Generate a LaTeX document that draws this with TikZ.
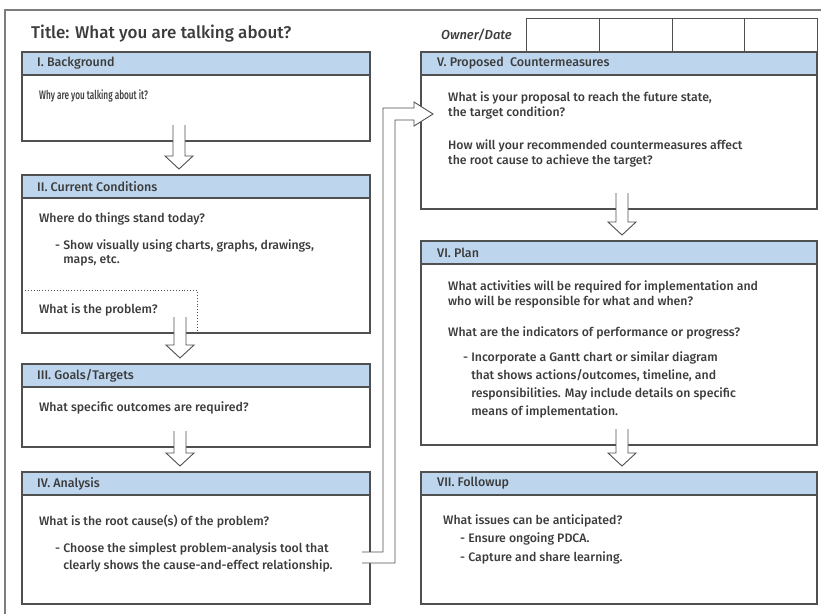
\documentclass[tikz,border=0pt]{standalone}
\usepackage{fontspec}
\setmainfont{Fira Sans}[UprightFont={* Medium}]
\usetikzlibrary{positioning,calc}
\definecolor{HeadBlue}{RGB}{189,214,238}
\definecolor{LineGray}{RGB}{80,80,80}
\definecolor{FrameGray}{RGB}{125,125,125}
\definecolor{InkGray}{RGB}{60,60,60}

% hollow arrow from one panel down to the next
\newcommand{\flowdown}[3]{%
  \path[flowarrow] let \p1=(#1.south), \p2=(#2.north) in
    ({\x1+#3pt-6pt},{\y1+16pt}) -- ({\x1+#3pt-6pt},{\y2+19pt})
    -- ({\x1+#3pt-14pt},{\y2+19pt}) -- ({\x1+#3pt},{\y2+6pt})
    -- ({\x1+#3pt+14pt},{\y2+19pt}) -- ({\x1+#3pt+6pt},{\y2+19pt})
    -- ({\x1+#3pt+6pt},{\y1+16pt});}

\begin{document}
\begin{tikzpicture}[x=1pt, y=-1pt, font=\fontsize{12.3}{15}\selectfont,
  panel/.style={draw=LineGray, line width=1.1pt, fill=white, anchor=north west,
                inner sep=0pt, outer sep=0pt},
  head/.style={draw=LineGray, line width=1.1pt, fill=HeadBlue, anchor=north west,
               minimum height=23pt, inner sep=0pt, outer sep=0pt},
  headtxt/.style={inner sep=0pt, text=InkGray, font=\fontsize{12.5}{13}\selectfont},
  cell/.style={draw=LineGray, line width=0.8pt, anchor=north west, inner sep=0pt,
               minimum width=72.75pt, minimum height=34pt},
  txt/.style={anchor=base west, inner sep=0pt, align=left, text=InkGray},
  flowarrow/.style={draw=LineGray, line width=0.9pt, fill=white}]
  \useasboundingbox (0,0) rectangle (821,613);
  \clip (0,0) rectangle (821,613);
  \draw[FrameGray, line width=1.6pt] (5,10) rectangle (840,630);

  \node[anchor=base west, inner sep=0pt, text=InkGray,
        font=\fontsize{17}{19}\selectfont] (title) at (31,38)
        {Title: What you are talking about?};

  % owner / date boxes
  \foreach \i in {0,...,3}
    \node[cell] (od\i) at ({526+72.75*\i},18) {};
  \node[inner sep=0pt, text=InkGray, font=\fontsize{13}{14}\selectfont\itshape,
        left=14pt of od0] (owner) {Owner/Date};

  % left column
  \node[panel, minimum width=348pt, minimum height=89pt] (bg) at (22,52) {};
  \node[head, minimum width=348pt] (bgh) at (bg.north west) {};
  \node[headtxt, right=15pt of bgh.west] (bgt) {I. Background};
  \node[panel, minimum width=348pt, minimum height=158pt] (cc) at (22,175) {};
  \node[head, minimum width=348pt] (cch) at (cc.north west) {};
  \node[headtxt, right=15pt of cch.west] (cct) {II. Current Conditions};
  \node[panel, minimum width=348pt, minimum height=83pt] (gt) at (22,364) {};
  \node[head, minimum width=348pt] (gth) at (gt.north west) {};
  \node[headtxt, right=15pt of gth.west] (gtt) {III. Goals/Targets};
  \node[panel, minimum width=348pt, minimum height=132pt] (an) at (22,472) {};
  \node[head, minimum width=348pt] (anh) at (an.north west) {};
  \node[headtxt, right=15pt of anh.west] (ant) {IV. Analysis};

  % right column
  \node[panel, minimum width=396pt, minimum height=157pt] (cm) at (421,52) {};
  \node[head, minimum width=396pt] (cmh) at (cm.north west) {};
  \node[headtxt, right=16pt of cmh.west] (cmt) {V. Proposed\ \ Countermeasures};
  \node[panel, minimum width=396pt, minimum height=204pt] (pl) at (421,241) {};
  \node[head, minimum width=396pt] (plh) at (pl.north west) {};
  \node[headtxt, right=16pt of plh.west] (plt) {VI. Plan};
  \node[panel, minimum width=396pt, minimum height=132pt] (fu) at (421,472) {};
  \node[head, minimum width=396pt] (fuh) at (fu.north west) {};
  \node[headtxt, right=16pt of fuh.west] (fut) {VII. Followup};

  \draw[dotted, LineGray, line width=0.9pt]
    ($(cc.south west)+(0,-43)$) -- ++(175,0) -- ++(0,43);

  % connectors
  \flowdown{bg}{cc}{-17}
  \flowdown{cc}{gt}{-16}
  \flowdown{gt}{an}{-16}
  \flowdown{cm}{pl}{3}
  \flowdown{pl}{fu}{3}
  \path[flowarrow] let \p1=(an.north east), \p2=(cm.north west) in
    ({\x1-8pt},{\y1-80pt}) -- ({\x1+13pt},{\y1-80pt}) -- ({\x1+13pt},{\y2-56pt})
    -- ({\x2-7pt},{\y2-56pt}) -- ({\x2-7pt},{\y2-50pt}) -- ({\x2+12pt},{\y2-62pt})
    -- ({\x2-7pt},{\y2-74pt}) -- ({\x2-7pt},{\y2-68pt}) -- ({\x1+25pt},{\y2-68pt})
    -- ({\x1+25pt},{\y1-91pt}) -- ({\x1-8pt},{\y1-91pt});

  % texts (base = last line)
  \node[txt] (bgq) at (39,99) {\scalebox{0.67}[1]{Why are you talking about it?}};
  \node[txt] (ccq) at (39,222) {Where do things stand today?};
  \node[txt] (ccb) at (55,263) {- Show visually using charts, graphs, drawings,\\[-1pt]
                                \phantom{- }maps, etc.};
  \node[txt] (ccp) at (39,313) {What is the problem?};
  \node[txt] (gtq) at (39,411) {What specific outcomes are required?};
  \node[txt] (anq) at (39,525) {What is the root cause(s) of the problem?};
  \node[txt] (anb) at (55,569) {- Choose the simplest problem-analysis tool that\\[2pt]
                                \phantom{- }clearly shows the cause-and-effect relationship.};
  \node[txt] (cmq) at (448,116) {What is your proposal to reach the future state,\\
                                 the target condition?};
  \node[txt] (cmr) at (448,164) {How will your recommended countermeasures affect\\
                                 the root cause to achieve the target?};
  \node[txt] (plq) at (448,305) {What activities will be required for implementation and\\
                                 who will be responsible for what and when?};
  \node[txt] (plr) at (448,336) {What are the indicators of performance or progress?};
  \node[txt] (plb) at (463,415) {- Incorporate a Gantt chart or similar diagram\\[3pt]
                                 \phantom{- }that shows actions/outcomes, timeline, and\\[3pt]
                                 \phantom{- }responsibilities. May include details on specific\\[3pt]
                                 \phantom{- }means of implementation.};
  \node[txt] (fuq) at (443,524) {What issues can be anticipated?};
  \node[txt] (fub) at (460,561) {- Ensure ongoing PDCA.\\[4pt]
                                 - Capture and share learning.};
\end{tikzpicture}
\end{document}
